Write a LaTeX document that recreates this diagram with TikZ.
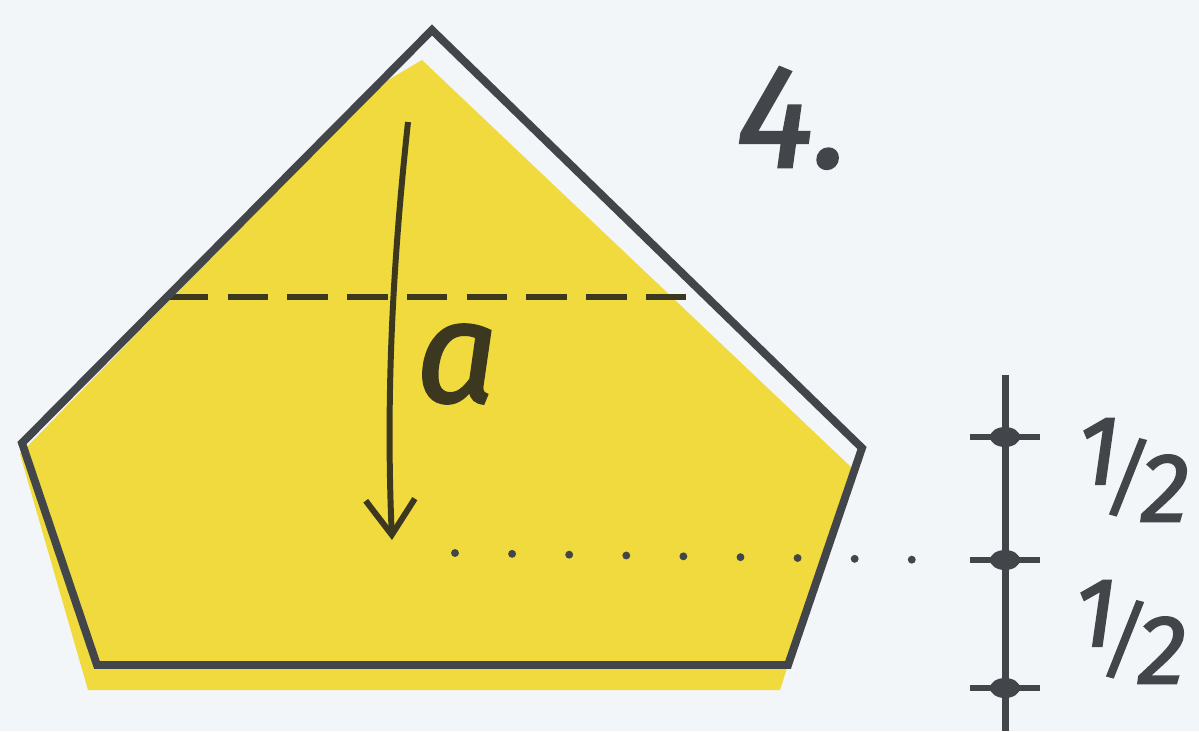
\documentclass[tikz,border=0pt]{standalone}
\usepackage{fontspec}
\setmainfont{Fira Sans}[ItalicFeatures={FakeBold=1.6}]
\usetikzlibrary{arrows.meta}
\definecolor{paper}{RGB}{243,246,248}
\definecolor{foldyellow}{RGB}{240,218,62}
\definecolor{ink}{RGB}{66,70,74}
\definecolor{inkdark}{RGB}{60,56,32}
\newcommand{\halfmark}{\raisebox{0.30em}{1}\kern-0.14em{\fontsize{48}{48}\selectfont\raisebox{0.08em}{/}}\kern-0.08em\raisebox{-0.08em}{2}}

\begin{document}
\begin{tikzpicture}[x=0.02cm,y=-0.02cm,>={Straight Barb[length=20pt,width=28pt]},
  every node/.style={inner sep=0pt,text=ink},
  outline/.style={draw=ink,line width=4.5pt,line join=miter},
  foldline/.style={draw=inkdark,line width=3.4pt,dash pattern=on 23pt off 11pt},
  markline/.style={draw=ink,line width=4.5pt,line cap=round,dash pattern=on 0pt off 32.5pt},
  scaletick/.style={draw=ink,line width=3pt}]
  \fill[paper] (0,0) rectangle (1199,731);
  \useasboundingbox (0,0) rectangle (1199,731);
  % the folded sheet
  \coordinate (top) at (432,30);
  \coordinate (rt) at (862,448);
  \coordinate (br) at (788,665);
  \coordinate (bl) at (97,665);
  \coordinate (lt) at (22,443);
  \fill[foldyellow] (20,454) -- (378,86) -- (422,60) -- (852,468) -- (780,690) -- (88,690) -- cycle;
  % crease lines
  \coordinate (dl) at (168,297);
  \coordinate (dr) at (690,297);
  \draw[foldline] (dl) -- (dr);
  \coordinate (ml) at (455,553);
  \coordinate (mr) at (935,560);
  \draw[markline] (ml) -- (mr);
  \draw[outline] (top) -- (rt) -- (br) -- (bl) -- (lt) -- cycle;
  % fold arrow
  \coordinate (as) at (408,122);
  \coordinate (ae) at (392,540);
  \draw[->,draw=inkdark,line width=3.4pt] (as) .. controls (392,270) and (386,400) .. (ae);
  \node[text=inkdark,font=\fontsize{82}{82}\selectfont\itshape] (a) at (457,364) {a};
  \node[font=\fontsize{84}{84}\selectfont\itshape] (step) at (793,118) {4.};
  % scale
  \coordinate (s0) at (1005,375);
  \coordinate (s1) at (1005,437);
  \coordinate (s2) at (1005,560);
  \coordinate (s3) at (1005,688);
  \coordinate (s4) at (1005,731);
  \draw[draw=ink,line width=4pt] (s0) -- (s4);
  \foreach \t in {s1,s2,s3} {
    \draw[scaletick] ([xshift=-0.7cm]\t) -- ([xshift=0.7cm]\t);
    \fill[ink] (\t) ellipse (0.3cm and 0.2cm);
  }
  \node[font=\fontsize{56}{56}\selectfont\itshape] (h1) at (1133,470) {\halfmark};
  \node[font=\fontsize{56}{56}\selectfont\itshape] (h2) at (1130,632) {\halfmark};
\end{tikzpicture}
\end{document}
